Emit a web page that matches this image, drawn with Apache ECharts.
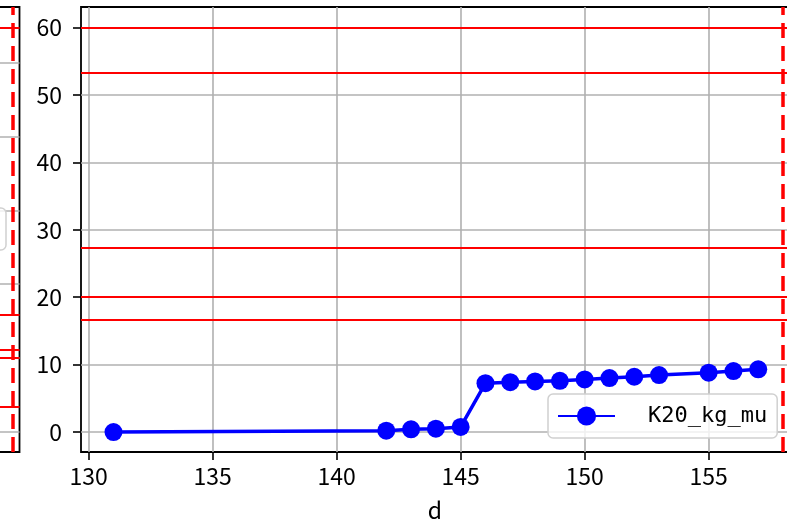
<!DOCTYPE html>
<html>
<head>
<meta charset="utf-8">
<script src="https://cdn.jsdelivr.net/npm/echarts@6/dist/echarts.min.js"></script>
<style>
    html, body { margin: 0; padding: 0; background: #fff; }
    #chart { width: 787px; height: 522px; }
</style>
</head>
<body>
<div id="chart"></div>
<script>
// main panel data
var days = [131, 142, 143, 144, 145, 146, 147, 148, 149, 150, 151, 152, 153, 155, 156, 157];
var k20 = [0, 0.2, 0.4, 0.5, 0.75, 7.25, 7.4, 7.5, 7.6, 7.8, 8.0, 8.2, 8.45, 8.8, 9.05, 9.3];
var limitLines = [60, 53.3, 27.3, 20, 16.7];
var dayMark = 158;
var xTicks = [130, 135, 140, 145, 150, 155];
var yTicks = [0, 10, 20, 30, 40, 50, 60];

// the sliver of the neighbouring panel on the left
var leftLimitLines = [5.47, 1.59, 1.12, 1.01, 0.34];
var leftGridTicks = [0, 1, 2, 3, 4, 5];
var leftMark = 98.56;

var chart = echarts.init(document.getElementById("chart"));
var font = "'Noto Sans CJK JP', 'Noto Sans', sans-serif";

var redLine = function (v) {
    return { yAxis: v };
};

var option = {
    animation: false,
    backgroundColor: "#fff",
    textStyle: { fontFamily: font },
    grid: [
        {
            left: 81, top: 7, width: 708, height: 445,
            outerBoundsMode: "none", containLabel: false,
            show: true, borderColor: "#000", borderWidth: 1.8,
        },
        {
            left: -480, top: 7, width: 499.5, height: 445,
            outerBoundsMode: "none", containLabel: false,
            show: true, borderColor: "#000", borderWidth: 1.8,
        },
    ],
    legend: {
        data: ["K20_kg_mu"],
        left: 548, top: 394,
        padding: [11, 10, 11, 9],
        itemWidth: 57, itemHeight: 24,
        backgroundColor: "rgba(255,255,255,0.8)",
        borderColor: "#d0d0d0", borderWidth: 1.5, borderRadius: 5,
        textStyle: {
            fontFamily: "'DejaVu Sans Mono', monospace",
            fontSize: 22, color: "#000",
            padding: [0, 0, 0, 28],
        },
    },
    graphic: [
        {
            type: "rect",
            shape: { x: -100, y: 208, width: 106, height: 42, r: 5 },
            style: { fill: "rgba(255,255,255,0.8)", stroke: "#d0d0d0", lineWidth: 1.5 },
            z: 5,
        },
    ],
    xAxis: [
        {
            type: "value", gridIndex: 0,
            min: 129.69, max: 158.24,
            name: "d", nameLocation: "middle", nameGap: 47,
            nameTextStyle: { fontSize: 23, color: "#000", fontFamily: font },
            axisLine: { show: false, onZero: false },
            axisTick: { show: true, inside: false, length: 8, customValues: xTicks,
                lineStyle: { color: "#000", width: 1.6 } },
            axisLabel: { customValues: xTicks, margin: 13, fontSize: 23, color: "#000", fontFamily: font },
            splitLine: { show: true, lineStyle: { color: "#b0b0b0", width: 1.6 } },
        },
        {
            type: "value", gridIndex: 1,
            min: 0, max: 100,
            axisLine: { show: false, onZero: false },
            axisTick: { show: false },
            axisLabel: { show: false },
            splitLine: { show: false },
        },
    ],
    yAxis: [
        {
            type: "value", gridIndex: 0,
            min: -2.96, max: 63.04,
            axisLine: { show: false, onZero: false },
            axisTick: { show: true, inside: false, length: 8, customValues: yTicks,
                lineStyle: { color: "#000", width: 1.6 } },
            axisLabel: { customValues: yTicks, margin: 19, fontSize: 23, color: "#000", fontFamily: font },
            splitLine: { show: true, lineStyle: { color: "#b0b0b0", width: 1.6 } },
        },
        {
            type: "value", gridIndex: 1,
            min: -0.27, max: 5.75,
            axisLine: { show: false, onZero: false },
            axisTick: { show: false, customValues: leftGridTicks },
            axisLabel: { show: false, customValues: leftGridTicks },
            splitLine: { show: true, lineStyle: { color: "#b0b0b0", width: 1.6 } },
        },
    ],
    series: [
        {
            name: "K20_kg_mu",
            type: "line",
            xAxisIndex: 0, yAxisIndex: 0,
            data: days.map(function (d, i) { return [d, k20[i]]; }),
            color: "#0000ff",
            symbol: "circle",
            symbolSize: 18,
            lineStyle: { width: 3.5, color: "#0000ff" },
            itemStyle: { color: "#0000ff" },
            z: 4,
            markLine: {
                silent: true,
                symbol: "none",
                label: { show: false },
                data: limitLines.map(redLine).map(function (o) {
                    o.lineStyle = { color: "#ff0000", width: 2.2, type: "solid" };
                    return o;
                }).concat([
                    { xAxis: dayMark, lineStyle: { color: "#ff0000", width: 3.5, type: [15, 8] } },
                ]),
            },
        },
        {
            name: "left",
            type: "line",
            xAxisIndex: 1, yAxisIndex: 1,
            data: [],
            markLine: {
                silent: true,
                symbol: "none",
                label: { show: false },
                data: leftLimitLines.map(redLine).map(function (o) {
                    o.lineStyle = { color: "#ff0000", width: 2.2, type: "solid" };
                    return o;
                }).concat([
                    { xAxis: leftMark, lineStyle: { color: "#ff0000", width: 3.5, type: [15, 8] } },
                ]),
            },
        },
    ],
};
chart.setOption(option);
</script>
</body>
</html>
